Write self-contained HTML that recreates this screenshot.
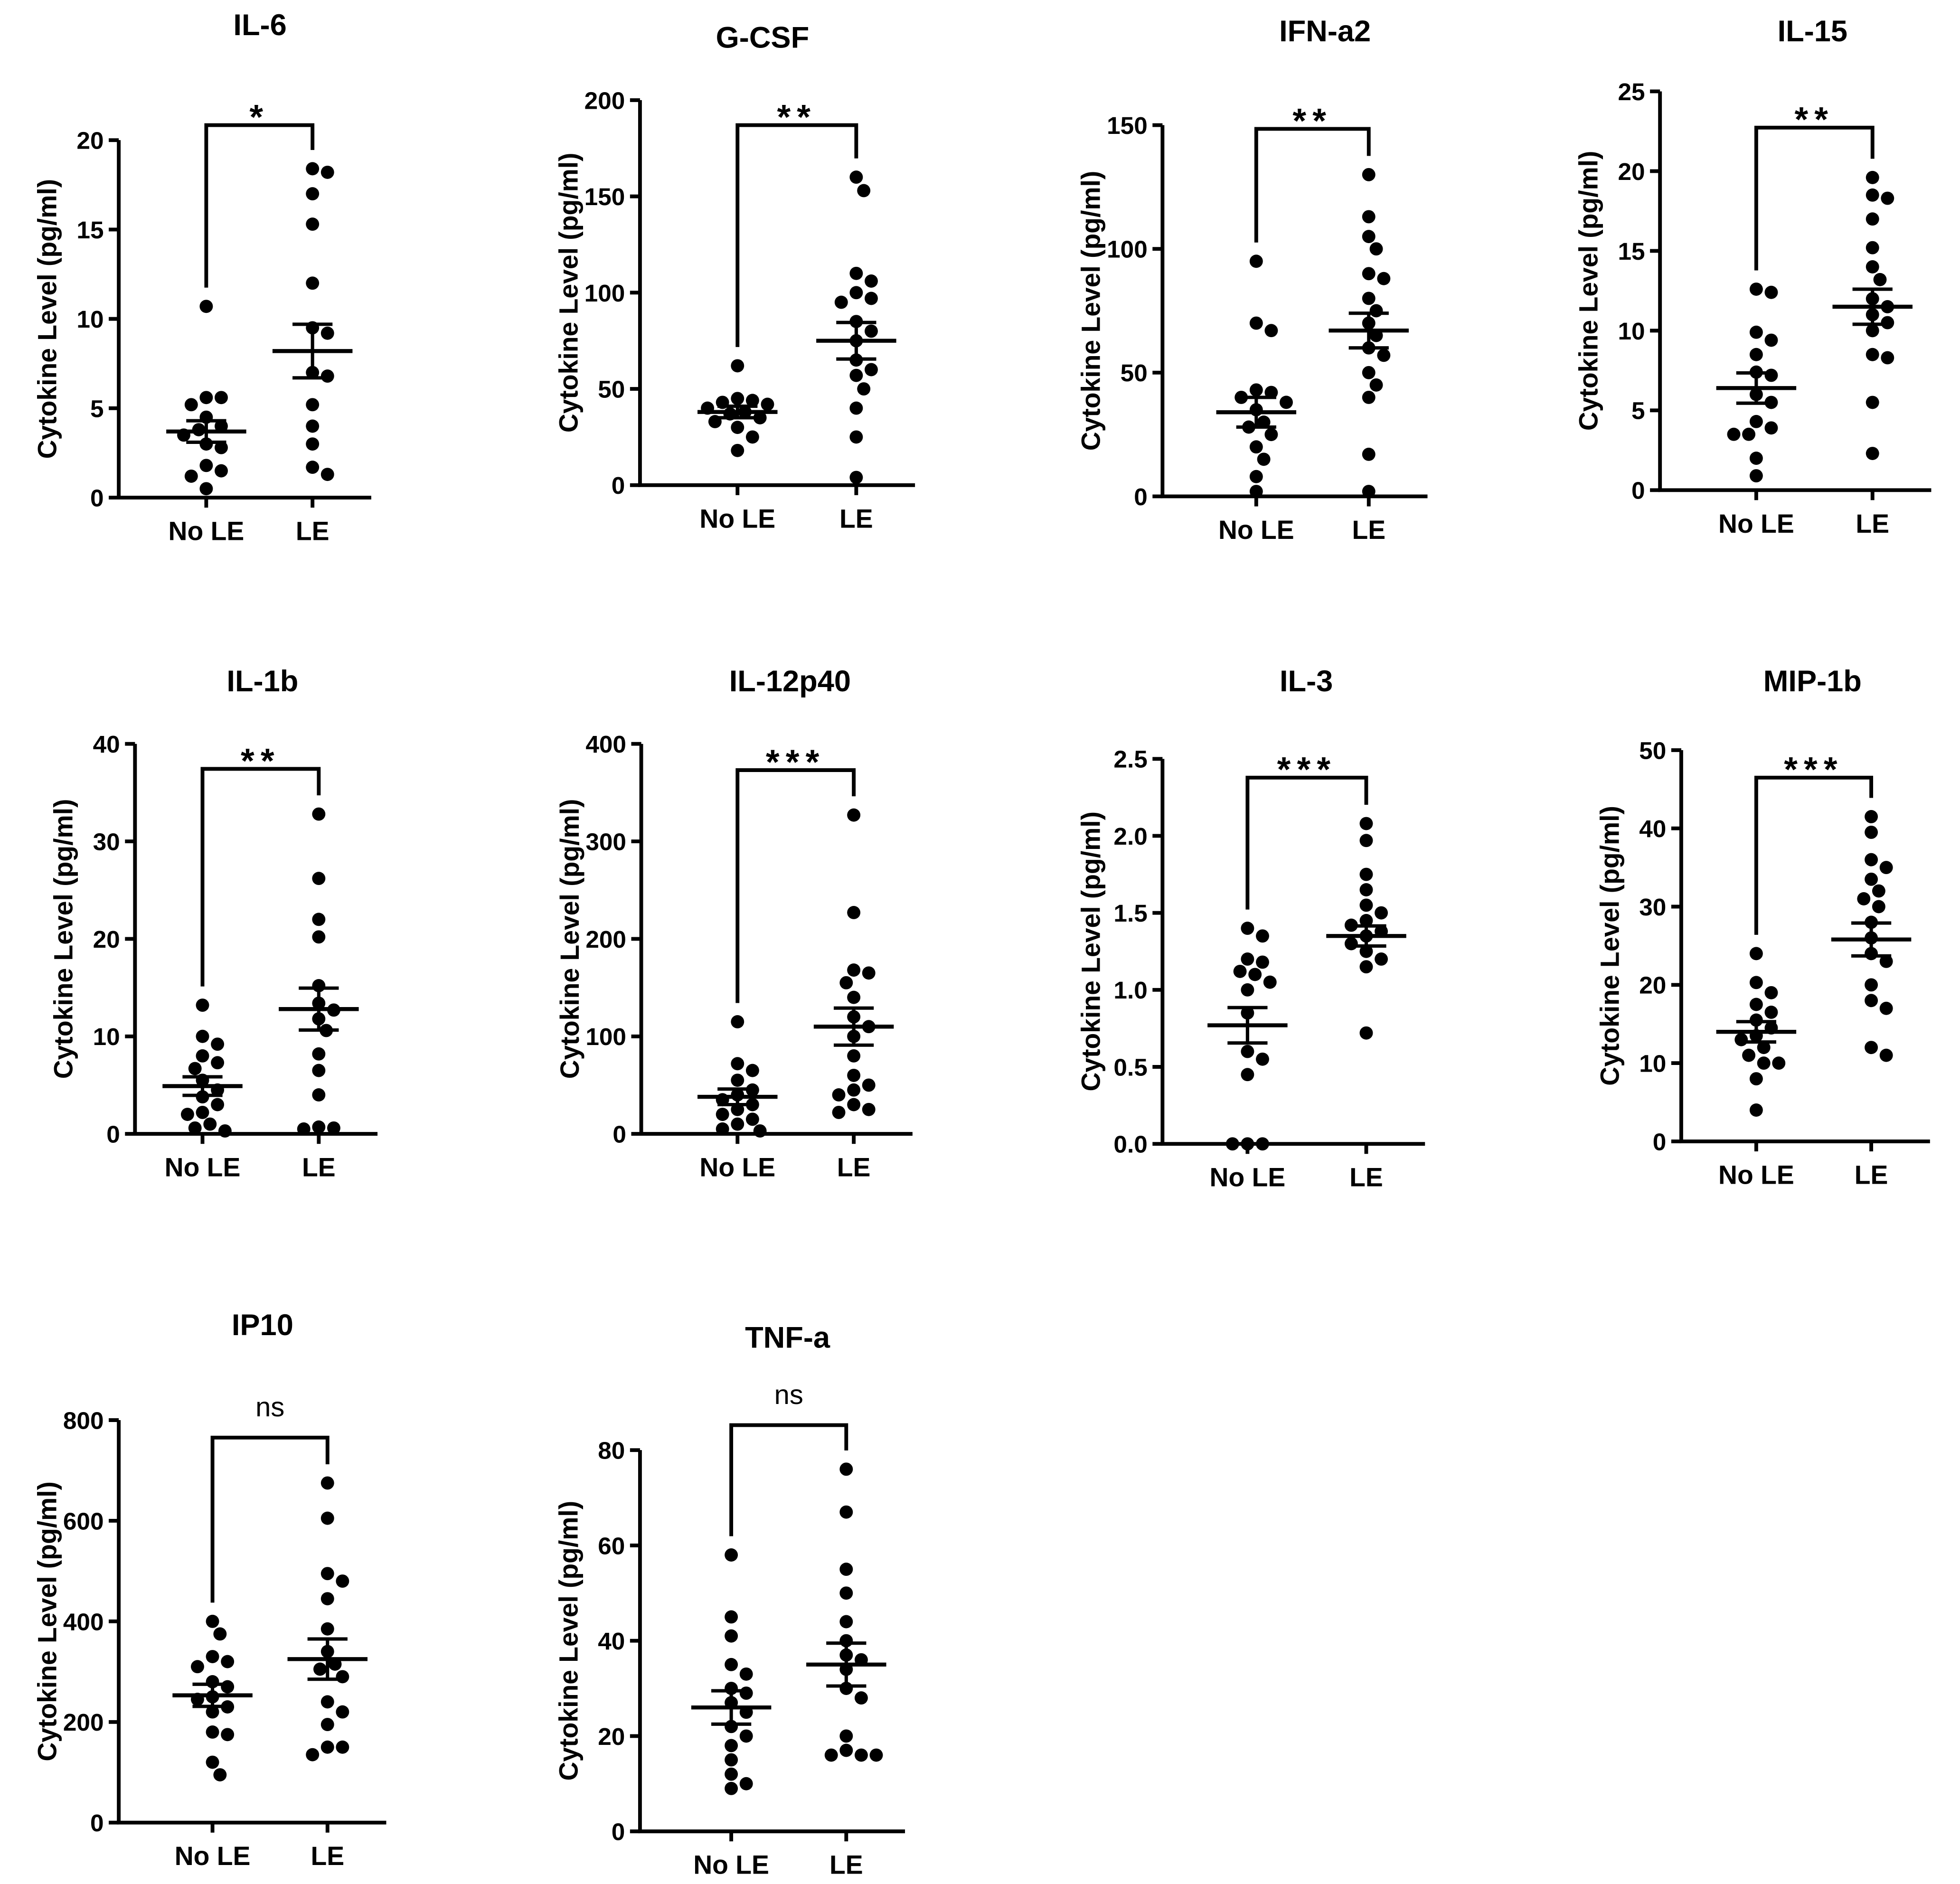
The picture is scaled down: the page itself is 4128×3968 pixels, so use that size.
<!DOCTYPE html>
<html><head><meta charset="utf-8"><style>
html,body{margin:0;padding:0;background:#fff}
svg{display:block}
text{font-family:"Liberation Sans",Arial,sans-serif;font-weight:bold;fill:#000}
</style></head><body>
<svg id="chart" width="4128" height="3968" viewBox="0 0 1568 1507" xmlns="http://www.w3.org/2000/svg"></svg>
<script>
// Data arrays (values in pg/ml)
const titles = ["IL-6","G-CSF","IFN-a2","IL-15","IL-1b","IL-12p40","IL-3","MIP-1b","IP10","TNF-a"];
const sigLabels = ["*","**","**","**","**","***","***","***","ns","ns"];
const yMaxs = [20,200,150,25,40,400,2.5,50,800,80];
const yTickLabels = [
 ["0","5","10","15","20"],["0","50","100","150","200"],["0","50","100","150"],["0","5","10","15","20","25"],
 ["0","10","20","30","40"],["0","100","200","300","400"],["0.0","0.5","1.0","1.5","2.0","2.5"],["0","10","20","30","40","50"],
 ["0","200","400","600","800"],["0","20","40","60","80"]];
const categories = ["No LE","LE"];
const noLE = [
 [10.7,5.6,5.2,5.6,4.5,4.0,3.8,3.5,3.0,2.8,1.8,1.2,0.5,1.5],
 [62,45,44,43,42,40,38,37,35,33,30,25,18],
 [95,70,67,43,42,40,38,35,30,28,25,20,15,8,2],
 [12.6,12.4,9.9,9.4,8.5,7.4,7.2,6.0,5.5,4.3,3.9,3.5,3.5,2.0,0.9],
 [13.2,10.0,9.2,8.0,7.3,6.7,5.5,4.5,3.8,3.0,2.0,1.0,0.6,0.3,2.2],
 [115,72,65,55,45,40,35,30,25,20,15,10,5,3],
 [1.4,1.35,1.2,1.18,1.12,1.1,1.05,1.0,0.85,0.6,0.55,0.45,0.0,0.0,0.0],
 [24,20.3,19,17.5,16.5,15.5,14.5,13.5,13,12,11,10,10,8,4],
 [400,375,330,320,310,280,270,250,245,230,220,180,175,120,95],
 [58,45,41,35,33,30,29,27,25,22,20,18,15,12,10,9]];
const withLE = [
 [18.4,18.2,17.0,15.3,12.0,9.5,9.2,7.0,6.8,5.2,4.0,3.0,1.7,1.3],
 [160,153,110,106,100,97,95,85,80,75,65,60,57,50,40,25,4],
 [130,113,105,100,90,88,80,75,70,65,60,57,50,45,40,17,2],
 [19.6,18.5,18.3,17.0,15.2,14.0,13.2,12.0,11.5,11.0,10.5,10.0,8.5,8.3,5.5,2.3],
 [32.8,26.2,22.0,20.2,15.2,13.4,12.7,11.8,10.6,8.2,6.5,4.0,0.7,0.5,0.6],
 [327,227,168,165,155,140,120,110,100,80,60,50,45,40,30,25,22],
 [2.08,1.97,1.75,1.65,1.55,1.5,1.45,1.42,1.38,1.35,1.3,1.25,1.2,1.15,0.72],
 [41.5,39.5,36,35,33.5,32,31,30,28,26,24,23,20,18,17,12,11],
 [675,605,495,480,445,385,340,315,305,290,240,220,195,150,135,150],
 [76,67,55,50,44,40,37,36,34,30,28,20,17,16,16,16]];
const noLEMean=[3.7,38,34,6.4,4.9,38,0.77,14,253,26];
const noLESem=[0.6,3,6,0.95,0.95,8,0.115,1.3,22,3.5];
const leMean=[8.2,75,67,11.5,12.8,110,1.35,25.8,325,35];
const leSem=[1.5,9.5,7,1.1,2.15,19,0.065,2.1,40,4.5];

const layout = [
 [95,398,112,165,250,100,208,28],[512,388,80,590,685,100,610,38],[930,397,100,1005,1095,103,1060,33],[1328,392,73,1405,1498,102,1450,33],
 [108,907,595,162,255,615,210,553],[513,907,595,590,683,616,632,553],[930,915,607,998,1093,622,1045,553],[1345,913,600,1405,1497,622,1450,553],
 [95,1458,1136,170,262,1150,210,1068],[512,1465,1160,585,677,1140,630,1078]];

const NS="http://www.w3.org/2000/svg";
const svg=document.getElementById('chart');
function mk(tag,attrs,parent,txt){const e=document.createElementNS(NS,tag);for(const k in attrs)e.setAttribute(k,attrs[k]);if(txt!==undefined)e.textContent=txt;parent.appendChild(e);return e;}
function swarm(vals,yf,cx){
 const pts=[];const r=11;
 vals.map(v=>[v,yf(v)]).sort((a,b)=>a[1]-b[1]).forEach(([v,y])=>{
  const offs=[0];for(let k=1;k<10;k++){offs.push(k*6,-k*6);}
  for(const o of offs){const x=cx+o;if(pts.every(p=>Math.hypot(p[0]-x,p[1]-y)>=r)){pts.push([x,y]);break;}}
 });return pts;}

titles.forEach((t,i)=>{
 const [ax,y0,yt,x1,x2,by,tx,ty]=layout[i];
 const g=mk('g',{},svg);
 
 
 const yf=v=>y0-(v/yMaxs[i])*(y0-yt);
 const xEnd=x2+47;
 let e=mk('text',{x:tx,y:ty,'font-size':24,'text-anchor':'middle'},g,t);
 
 e=mk('line',{x1:ax,y1:y0,x2:ax,y2:yt,stroke:'#000','stroke-width':3},g);
 
 e=mk('line',{x1:ax-1.5,y1:y0,x2:xEnd,y2:y0,stroke:'#000','stroke-width':3},g);
 
 const tl=yTickLabels[i];
 tl.forEach((lab,k)=>{
  const v=yMaxs[i]*k/(tl.length-1);const y=yf(v);
  mk('line',{x1:ax-8,y1:y,x2:ax,y2:y,stroke:'#000','stroke-width':3},g);
  const tt=mk('text',{x:ax-12,y:y+7,'font-size':19.5,'text-anchor':'end'},g,lab);
  
 });
 [x1,x2].forEach((cx,k)=>{
  mk('line',{x1:cx,y1:y0,x2:cx,y2:y0+8,stroke:'#000','stroke-width':3},g);
  const tt=mk('text',{x:cx,y:y0+34,'font-size':21,'text-anchor':'middle'},g,categories[k]);
  
 });
 const yl=mk('text',{transform:`translate(${ax-50},${(y0+yt)/2}) rotate(-90)`,'font-size':21,'text-anchor':'middle'},g,'Cytokine Level (pg/ml)');
 
 const topA=Math.min(...swarm(noLE[i],yf,x1).map(p=>p[1]))-15, topB=Math.min(...swarm(withLE[i],yf,x2).map(p=>p[1]))-15;
 e=mk('path',{d:`M${x1},${topA} L${x1},${by} L${x2},${by} L${x2},${topB}`,fill:'none',stroke:'#000','stroke-width':3},g);
 
 const isNs=sigLabels[i]==='ns';
 e=mk('text',{x:(x1+x2)/2,y:by+(isNs?-17:3),'font-size':isNs?22:28,'text-anchor':'middle','letter-spacing':isNs?0:5},g,sigLabels[i]);
 e.style.fontWeight=isNs?'normal':'bold';
 
 [[noLE[i],x1,noLEMean[i],noLESem[i],'no-le'],[withLE[i],x2,leMean[i],leSem[i],'le']].forEach(([vals,cx,m,s,nm])=>{
  swarm(vals,yf,cx).forEach(p=>{
   const c=mk('circle',{cx:p[0],cy:p[1],r:5.3,fill:'#000'},g);
   
  });
  let l=mk('line',{x1:cx-32,y1:yf(m),x2:cx+32,y2:yf(m),stroke:'#000','stroke-width':3.2},g);
  
  l=mk('path',{d:`M${cx-16},${yf(m+s)} H${cx+16} M${cx},${yf(m+s)} V${yf(m-s)} M${cx-16},${yf(m-s)} H${cx+16}`,fill:'none',stroke:'#000','stroke-width':2.7},g);
  
 });
});
</script>
</body></html>
